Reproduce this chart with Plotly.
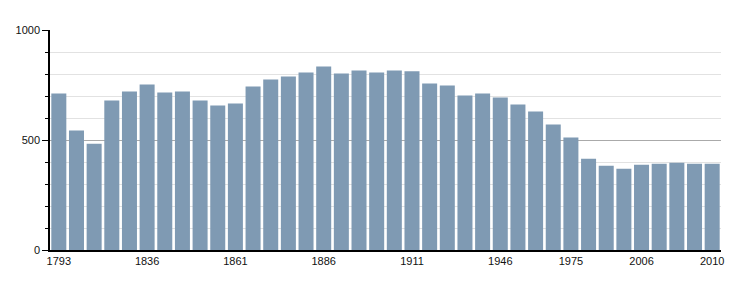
import plotly.graph_objects as go

years = ["1793", "1800", "1806", "1821", "1831", "1836", "1841", "1846", "1851", "1856",
         "1861", "1866", "1872", "1876", "1881", "1886", "1891", "1896", "1901", "1906",
         "1911", "1921", "1926", "1931", "1936", "1946", "1954", "1962", "1968", "1975",
         "1982", "1990", "1999", "2006", "2007", "2008", "2009", "2010"]
population = [711, 543, 483, 679, 720, 752, 716, 720, 679, 657,
              666, 743, 775, 789, 807, 834, 802, 816, 807, 816,
              812, 757, 748, 702, 711, 693, 661, 629, 570, 511,
              415, 383, 369, 388, 392, 397, 392, 392]
tick_years = ["1793", "1836", "1861", "1886", "1911", "1946", "1975", "2006", "2010"]

fig = go.Figure()
fig.add_trace(go.Bar(x=years, y=population, marker_color="#7f9ab3",
                     marker_line_width=0))

fig.update_layout(
    width=750, height=300,
    margin=dict(l=50, r=29, t=30, b=50),
    plot_bgcolor="white", paper_bgcolor="white",
    bargap=0.15,
    showlegend=False,
    font=dict(family="Liberation Sans, Arial, sans-serif", size=11, color="#111111"),
)
fig.update_xaxes(
    type="category",
    tickmode="array", tickvals=tick_years, ticktext=tick_years,
    showgrid=False, showline=True, linecolor="black", linewidth=1.5,
    ticks="", ticklen=0, ticklabelstandoff=0,
)
fig.update_yaxes(
    range=[0, 1000], tickvals=[0, 500, 1000],
    showgrid=True, gridcolor="#aaaaaa", gridwidth=1,
    showline=True, linecolor="black", linewidth=1.5,
    ticks="outside", ticklen=6, tickcolor="black",
    zeroline=False,
    minor=dict(dtick=100, showgrid=True, gridcolor="#e2e2e2",
               ticks="outside", ticklen=3, tickcolor="black"),
)

fig.write_html("out.html")
